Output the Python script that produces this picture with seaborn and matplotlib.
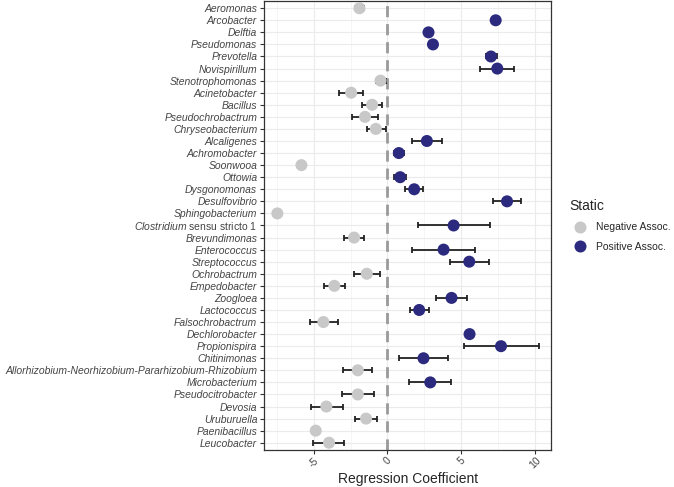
import numpy as np
import pandas as pd
import matplotlib
matplotlib.use("Agg")
import matplotlib.pyplot as plt
import seaborn as sns

# Data (top to bottom)
genus = [
    "Aeromonas", "Arcobacter", "Delftia", "Pseudomonas", "Prevotella",
    "Novispirillum", "Stenotrophomonas", "Acinetobacter", "Bacillus",
    "Pseudochrobactrum", "Chryseobacterium", "Alcaligenes", "Achromobacter",
    "Soonwooa", "Ottowia", "Dysgonomonas", "Desulfovibrio", "Sphingobacterium",
    "Clostridium sensu stricto 1", "Brevundimonas", "Enterococcus",
    "Streptococcus", "Ochrobactrum", "Empedobacter", "Zoogloea", "Lactococcus",
    "Falsochrobactrum", "Dechlorobacter", "Propionispira", "Chitinimonas",
    "Allorhizobium-Neorhizobium-Pararhizobium-Rhizobium", "Microbacterium",
    "Pseudocitrobacter", "Devosia", "Uruburuella", "Paenibacillus", "Leucobacter",
]
coef = [
    -1.9, 7.33, 2.78, 3.08, 7.01, 7.44, -0.47, -2.46, -1.04, -1.52, -0.79,
    2.67, 0.77, -5.83, 0.86, 1.81, 8.10, -7.46, 4.48, -2.26, 3.80, 5.54,
    -1.40, -3.60, 4.34, 2.15, -4.34, 5.56, 7.69, 2.44, -2.01, 2.90, -2.01,
    -4.14, -1.45, -4.86, -3.96,
]
ci_low = [
    -2.17, 7.18, np.nan, 2.90, 6.65, 6.27, -0.81, -3.28, -1.74, -2.40, -1.42,
    1.65, 0.43, np.nan, 0.47, 1.22, 7.17, np.nan, 2.08, -2.94, 1.67, 4.21,
    -2.28, -4.32, 3.30, 1.54, -5.25, np.nan, 5.20, 0.81, -3.01, 1.45, -3.10,
    -5.20, -2.19, np.nan, -5.02,
]
ci_high = [
    -1.56, 7.48, np.nan, 3.26, 7.44, 8.55, -0.11, -1.63, -0.36, -0.66, -0.11,
    3.71, 1.15, np.nan, 1.24, 2.44, 9.02, np.nan, 6.92, -1.58, 5.95, 6.88,
    -0.52, -2.87, 5.38, 2.78, -3.37, np.nan, 10.24, 4.07, -1.02, 4.32, -0.88,
    -3.03, -0.68, np.nan, -2.92,
]

df = pd.DataFrame({"genus": genus, "coef": coef, "lo": ci_low, "hi": ci_high})
df["Static"] = np.where(df["coef"] < 0, "Negative Assoc.", "Positive Assoc.")
palette = {"Negative Assoc.": "#c8c8c8", "Positive Assoc.": "#2c2a7e"}

sns.set_style("whitegrid")
plt.rcParams["font.family"] = ["Liberation Sans", "DejaVu Sans"]
plt.rcParams["mathtext.fontset"] = "custom"
plt.rcParams["mathtext.rm"] = "Liberation Sans"
plt.rcParams["mathtext.it"] = "Liberation Sans:italic"

fig = plt.figure(figsize=(6.74, 4.87), dpi=100)
ax = fig.add_axes([0.392, 0.076, 0.426, 0.922])

ypos = np.arange(len(genus))
df["y"] = ypos

# error bars first, points on top
eb = df.dropna(subset=["lo", "hi"])
ax.errorbar(eb["coef"], eb["y"],
            xerr=[eb["coef"] - eb["lo"], eb["hi"] - eb["coef"]],
            fmt="none", ecolor="#222222", elinewidth=1.3, capsize=2.5,
            capthick=1.3, zorder=2)

sns.scatterplot(data=df, x="coef", y="y", hue="Static", palette=palette,
                hue_order=["Negative Assoc.", "Positive Assoc."],
                s=75, edgecolor="none", ax=ax, zorder=3)

ax.axvline(0, color="#9a9a9a", linestyle=(0, (4, 2.5)), linewidth=2, zorder=1)

ax.set_xlim(-8.35, 11.1)
ax.set_ylim(len(genus) - 0.4, -0.6)
ax.set_xticks([-5, 0, 5, 10])
ax.set_xticks([-7.5, -2.5, 2.5, 7.5], minor=True)
ax.set_yticks(ypos)

labels = []
for g in genus:
    if g.startswith("Clostridium"):
        labels.append(r"$\mathit{Clostridium}$ sensu stricto 1")
    else:
        labels.append(g)
ax.set_yticklabels(labels, fontsize=7.5, color="#444444")
for t, g in zip(ax.get_yticklabels(), genus):
    if not g.startswith("Clostridium"):
        t.set_style("italic")

ax.set_xticklabels(["-5", "0", "5", "10"], rotation=45, fontsize=7.5,
                   color="#444444", ha="center", va="top")

ax.grid(which="major", color="#ebebeb", linewidth=0.8)
ax.grid(which="minor", axis="x", color="#f2f2f2", linewidth=0.5)
ax.tick_params(axis="both", which="major", length=3, width=0.8,
               color="#333333", left=True, bottom=True)
ax.tick_params(axis="x", which="major", pad=1)
ax.tick_params(axis="y", which="major", pad=2)
ax.tick_params(axis="x", which="minor", length=0)
for sp in ax.spines.values():
    sp.set_color("#333333")
    sp.set_linewidth(0.9)

ax.set_xlabel("Regression Coefficient", fontsize=10, labelpad=1)
ax.set_ylabel("")

leg = ax.legend(title="Static", loc="center left", bbox_to_anchor=(1.03, 0.5),
                frameon=False, fontsize=7.5, title_fontsize=10,
                markerscale=1.0, handletextpad=0.6, labelspacing=0.9)
leg._legend_box.align = "left"

fig.savefig("out.png", dpi=100)
